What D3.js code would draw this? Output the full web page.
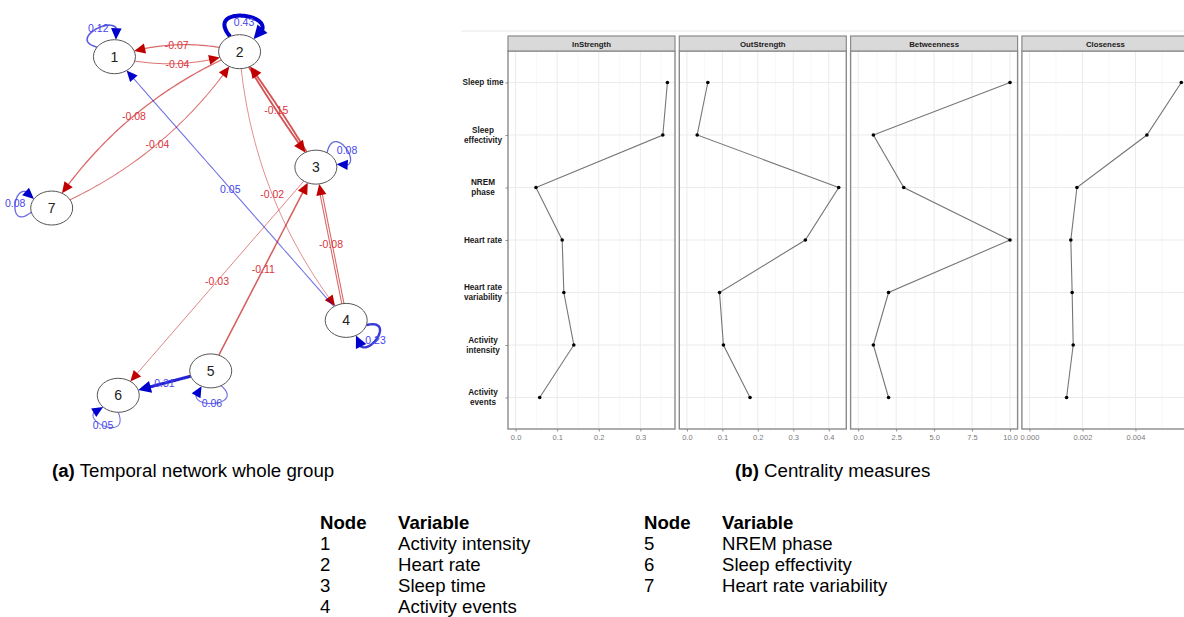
<!DOCTYPE html>
<html><head><meta charset="utf-8">
<script src="https://cdn.jsdelivr.net/npm/d3@7"></script>
<style>
body{margin:0;background:#fff;}
svg{display:block;font-family:"Liberation Sans",Arial,sans-serif;}
</style>
</head><body>
<svg id="chart" width="1184" height="617"></svg>
<script>
// ---------------- Network data ----------------
const nodeIds = [1, 2, 3, 4, 5, 6, 7];
const nodeLayoutX = [0.213, 0.638, 0.897, 1.0, 0.540, 0.226, 0.0];
const nodeLayoutY = [0.0146, 0.0, 0.336, 0.782, 0.929, 1.0, 0.455];
const edgeFrom   = [2, 1, 2, 7, 2, 3, 2, 4, 4, 3, 5, 5];
const edgeTo     = [1, 2, 7, 2, 3, 2, 4, 1, 3, 6, 3, 6];
const edgeWeight = [-0.07, -0.04, -0.08, -0.04, -0.15, -0.15, -0.02, 0.05, -0.08, -0.03, -0.11, 0.31];
const loopNode   = [1, 2, 3, 4, 5, 6, 7];
const loopWeight = [0.12, 0.43, 0.08, 0.23, 0.06, 0.05, 0.08];
const nodeVariables = ["Activity intensity", "Heart rate", "Sleep time", "Activity events",
                       "NREM phase", "Sleep effectivity", "Heart rate variability"];

// ---------------- Centrality data ----------------
const variables = ["Sleep time", "Sleep effectivity", "NREM phase", "Heart rate",
                   "Heart rate variability", "Activity intensity", "Activity events"];
const variableLabelLines = [["Sleep time"], ["Sleep", "effectivity"], ["NREM", "phase"], ["Heart rate"],
                            ["Heart rate", "variability"], ["Activity", "intensity"], ["Activity", "events"]];
const measures = ["InStrength", "OutStrength", "Betweenness", "Closeness"];
const inStrength  = [0.365, 0.354, 0.049, 0.112, 0.116, 0.140, 0.058];
const outStrength = [0.059, 0.029, 0.428, 0.334, 0.092, 0.103, 0.178];
const betweenness = [10, 1, 3, 10, 2, 1, 2];
const closeness   = [0.00573, 0.00443, 0.00179, 0.00156, 0.00161, 0.00165, 0.00140];
const inStrengthTicks  = [0, 0.1, 0.2, 0.3];
const outStrengthTicks = [0, 0.1, 0.2, 0.3, 0.4];
const betweennessTicks = [0, 2.5, 5, 7.5, 10];
const closenessTicks   = [0, 0.002, 0.004];
const inStrengthTickLabels  = ["0.0", "0.1", "0.2", "0.3"];
const outStrengthTickLabels = ["0.0", "0.1", "0.2", "0.3", "0.4"];
const betweennessTickLabels = ["0.0", "2.5", "5.0", "7.5", "10.0"];
const closenessTickLabels   = ["0.000", "0.002", "0.004"];

// ---------------- Drawing ----------------
const svg = d3.select("#chart");

// ===== Network =====
const xNet = d3.scaleLinear().domain([0, 1]).range([51.7, 346.2]);
const yNet = d3.scaleLinear().domain([0, 1]).range([51.7, 395.3]);
const RX = 21, RY = 17;
const nodes = nodeIds.map((id, i) => ({id, x: xNet(nodeLayoutX[i]), y: yNet(nodeLayoutY[i])}));
const nodeById = new Map(nodes.map(n => [n.id, n]));
const widthScale = d3.scaleLinear().domain([0, 0.43]).range([0.7, 4]);
const alphaScale = d3.scaleLinear().domain([0, 0.43]).range([0.5, 1]).clamp(true);
const posCol = "#0000CC", negCol = "#C00000";
const posLabel = "#4646EC", negLabel = "#DA3440";
const edgeFont = 10.5;

const curveStyle = {"2-1": 0.075, "1-2": 0.075, "2-7": 0.075, "7-2": 0.075, "2-4": 0.077, "2-3": 0.012, "3-2": 0.012};
const doubleStyle = new Set(["4-3"]);
// [direction deg, half-spread deg, control distance]
const loopStyle = {1: [-118, 33, 35], 2: [-82, 40, 44], 3: [-30, 22, 35], 4: [35, 22, 35],
                   5: [88, 33, 35], 6: [116, 26, 35], 7: [188, 19, 35]};

const gEdges = svg.append("g");
const gNodes = svg.append("g");
const gLabels = svg.append("g");

function inside(n, p) { const dx = (p[0] - n.x) / RX, dy = (p[1] - n.y) / RY; return dx * dx + dy * dy < 1; }
function boundary(n, deg) {
  const a = deg * Math.PI / 180, c = Math.cos(a), s = Math.sin(a);
  const r = 1 / Math.sqrt((c / RX) ** 2 + (s / RY) ** 2);
  return [n.x + r * c, n.y + r * s];
}
function bisect(f, lo, hi) { for (let k = 0; k < 40; k++) { const m = (lo + hi) / 2; if (f(m)) hi = m; else lo = m; } return (lo + hi) / 2; }
const lineGen = d3.line();

function drawCurve(pt, t0, t1, w, color, alpha, dbl) {
  const tip = pt(t1);
  const L = 10 + 0.9 * w, H = 4.4 + 0.55 * w;
  const tb = bisect(t => Math.hypot(pt(t)[0] - tip[0], pt(t)[1] - tip[1]) < L, t0, t1);
  const tEndLine = tb + (t1 - tb) * 0.3;
  const pts = d3.range(0, 61).map(i => pt(t0 + (tEndLine - t0) * i / 60));
  if (dbl) {
    gEdges.append("path").attr("d", lineGen(pts)).attr("fill", "none")
      .attr("stroke", color).attr("stroke-opacity", alpha).attr("stroke-width", w + 2.0);
    gEdges.append("path").attr("d", lineGen(pts)).attr("fill", "none")
      .attr("stroke", "#fff").attr("stroke-width", 1.1);
  } else {
    gEdges.append("path").attr("d", lineGen(pts)).attr("fill", "none")
      .attr("stroke", color).attr("stroke-opacity", alpha).attr("stroke-width", w);
  }
  const b = pt(tb);
  let dx = tip[0] - b[0], dy = tip[1] - b[1]; const len = Math.hypot(dx, dy); dx /= len; dy /= len;
  const bx = tip[0] - dx * L, by = tip[1] - dy * L;
  gEdges.append("polygon")
    .attr("points", [[tip[0], tip[1]], [bx - dy * H, by + dx * H], [bx + dy * H, by - dx * H]].map(p => p.join(",")).join(" "))
    .attr("fill", color);
}

function edgeLabel(p, wv) {
  gLabels.append("text").attr("x", p[0]).attr("y", p[1]).attr("text-anchor", "middle")
    .attr("dominant-baseline", "central").attr("font-size", edgeFont)
    .attr("fill", wv > 0 ? posLabel : negLabel).text(wv.toFixed(2));
}

const labelled = new Set();
edgeFrom.forEach((f, i) => {
  const t = edgeTo[i], wv = edgeWeight[i];
  const A = nodeById.get(f), B = nodeById.get(t);
  const key = f + "-" + t;
  const cv = curveStyle[key] || 0;
  const dx = B.x - A.x, dy = B.y - A.y, len = Math.hypot(dx, dy);
  const px = -dy / len, py = dx / len;
  const C = [(A.x + B.x) / 2 + px * 2 * cv * len, (A.y + B.y) / 2 + py * 2 * cv * len];
  const pt = s => [(1 - s) * (1 - s) * A.x + 2 * s * (1 - s) * C[0] + s * s * B.x,
                   (1 - s) * (1 - s) * A.y + 2 * s * (1 - s) * C[1] + s * s * B.y];
  const t0 = bisect(s => !inside(A, pt(s)), 0, 0.5);
  const t1 = bisect(s => inside(B, pt(s)), 0.5, 1);
  const col = wv > 0 ? posCol : negCol;
  drawCurve(pt, t0, t1, widthScale(Math.abs(wv)), col, alphaScale(Math.abs(wv)), doubleStyle.has(key));
  const rev = t + "-" + f + ":" + wv;
  if (!labelled.has(rev)) {
    labelled.add(key + ":" + wv);
    edgeLabel(pt(0.5), wv);
  }
});

loopNode.forEach((id, i) => {
  const n = nodeById.get(id), wv = loopWeight[i];
  const [th, s, D] = loopStyle[id];
  const s2 = 48;
  const P0 = boundary(n, th - s), P3 = boundary(n, th + s);
  const a1 = (th - s2) * Math.PI / 180, a2 = (th + s2) * Math.PI / 180;
  const P1 = [P0[0] + D * Math.cos(a1), P0[1] + D * Math.sin(a1)];
  const P2 = [P3[0] + D * Math.cos(a2), P3[1] + D * Math.sin(a2)];
  const pt = u => {
    const v = 1 - u;
    return [v * v * v * P0[0] + 3 * v * v * u * P1[0] + 3 * v * u * u * P2[0] + u * u * u * P3[0],
            v * v * v * P0[1] + 3 * v * v * u * P1[1] + 3 * v * u * u * P2[1] + u * u * u * P3[1]];
  };
  const col = wv > 0 ? posCol : negCol;
  drawCurve(pt, 0, 1, widthScale(Math.abs(wv)), col, alphaScale(Math.abs(wv)), false);
  const m = pt(0.5);
  // label sits just inside the loop apex
  const c0 = [(P0[0] + P3[0]) / 2, (P0[1] + P3[1]) / 2];
  const k = id === 2 ? 0.72 : 1;
  edgeLabel([c0[0] + (m[0] - c0[0]) * k, c0[1] + (m[1] - c0[1]) * k], wv);
});

gNodes.selectAll("ellipse").data(nodes).join("ellipse")
  .attr("cx", d => d.x).attr("cy", d => d.y).attr("rx", RX).attr("ry", RY)
  .attr("fill", "#fff").attr("stroke", "#555").attr("stroke-width", 1);
gNodes.selectAll("text").data(nodes).join("text")
  .attr("x", d => d.x).attr("y", d => d.y).attr("text-anchor", "middle")
  .attr("dominant-baseline", "central").attr("font-size", 14).attr("fill", "#222")
  .text(d => d.id);

// ===== Centrality panels =====
const measureValues = [inStrength, outStrength, betweenness, closeness];
const measureTicks = [inStrengthTicks, outStrengthTicks, betweennessTicks, closenessTicks];
const measureTickLabels = [inStrengthTickLabels, outStrengthTickLabels, betweennessTickLabels, closenessTickLabels];
const panelTop = 51, panelBottom = 429, stripTop = 36, panelW = 167;
const panelX = d3.scaleLinear().domain([0, 1]).range([508, 679.3]);

svg.append("line").attr("x1", 461).attr("x2", 1184).attr("y1", 31).attr("y2", 31)
  .attr("stroke", "#e8e8e8").attr("stroke-width", 1);

const yC = d3.scalePoint().domain(variables).range([panelTop, panelBottom]).padding(0.6);

measures.forEach((m, i) => {
  const left = panelX(i);
  const vals = measureValues[i];
  const lo = Math.min(0, d3.min(vals)), hi = d3.max(vals), pad = (hi - lo) * 0.05;
  const x = d3.scaleLinear().domain([lo - pad, hi + pad]).range([left, left + panelW]);
  const g = svg.append("g");
  const ticks = measureTicks[i];
  const step = ticks[1] - ticks[0];
  const minors = [ticks[0] - step / 2].concat(ticks.map(t => t + step / 2))
    .filter(v => v > x.domain()[0] && v < x.domain()[1]);
  g.append("rect").attr("x", left).attr("y", panelTop).attr("width", panelW).attr("height", panelBottom - panelTop)
    .attr("fill", "#fff");
  g.selectAll(".minor").data(minors).join("line")
    .attr("x1", d => x(d)).attr("x2", d => x(d)).attr("y1", panelTop).attr("y2", panelBottom)
    .attr("stroke", "#f3f3f3").attr("stroke-width", 0.7);
  g.selectAll(".major").data(ticks).join("line")
    .attr("x1", d => x(d)).attr("x2", d => x(d)).attr("y1", panelTop).attr("y2", panelBottom)
    .attr("stroke", "#ebebeb").attr("stroke-width", 1);
  g.selectAll(".hgrid").data(variables).join("line")
    .attr("x1", left).attr("x2", left + panelW).attr("y1", d => yC(d)).attr("y2", d => yC(d))
    .attr("stroke", "#ebebeb").attr("stroke-width", 1);
  const rows = variables.map((v, k) => ({cat: v, val: vals[k]}));
  g.append("path").datum(rows)
    .attr("d", d3.line().x(d => x(d.val)).y(d => yC(d.cat)))
    .attr("fill", "none").attr("stroke", "#767676").attr("stroke-width", 1.1);
  g.selectAll("circle").data(rows).join("circle")
    .attr("cx", d => x(d.val)).attr("cy", d => yC(d.cat)).attr("r", 1.8).attr("fill", "#000");
  g.append("rect").attr("x", left).attr("y", panelTop).attr("width", panelW).attr("height", panelBottom - panelTop)
    .attr("fill", "none").attr("stroke", "#8a8a8a").attr("stroke-width", 1.4);
  // strip
  g.append("rect").attr("x", left).attr("y", stripTop).attr("width", panelW).attr("height", panelTop - stripTop)
    .attr("fill", "#d9d9d9").attr("stroke", "#8a8a8a").attr("stroke-width", 1.2);
  g.append("text").attr("x", left + panelW / 2).attr("y", (stripTop + panelTop) / 2 + 0.5)
    .attr("text-anchor", "middle").attr("dominant-baseline", "central")
    .attr("font-size", 7.8).attr("font-weight", "bold").attr("fill", "#1a1a1a").text(m);
  // x axis
  const ax = g.append("g").attr("transform", `translate(0,${panelBottom})`)
    .call(d3.axisBottom(x).tickValues(ticks).tickFormat((d, k) => measureTickLabels[i][k]).tickSize(2.5).tickPadding(3));
  ax.select(".domain").remove();
  ax.selectAll("line").attr("stroke", "#8a8a8a");
  ax.selectAll("text").attr("font-size", 7.5).attr("fill", "#7a7a7a").attr("font-family", "'Liberation Sans', Arial, sans-serif");
  if (i === 0) {
    const ay = g.append("g").attr("transform", `translate(${left},0)`)
      .call(d3.axisLeft(yC).tickSize(2.5).tickFormat(""));
    ay.select(".domain").remove();
    ay.selectAll("line").attr("stroke", "#8a8a8a");
    variables.forEach((v, k) => {
      const lines = variableLabelLines[k];
      const t = g.append("text").attr("text-anchor", "middle").attr("font-size", 8.2)
        .attr("font-weight", "bold").attr("fill", "#1a1a1a");
      lines.forEach((ln, j) => {
        t.append("tspan").attr("x", 483)
          .attr("y", yC(v) + (lines.length === 1 ? 0 : (j === 0 ? -5 : 5)))
          .attr("dominant-baseline", "central").text(ln);
      });
    });
  }
});

// ===== Captions =====
function caption(x, y, bold, rest) {
  const t = svg.append("text").attr("x", x).attr("y", y).attr("dominant-baseline", "central")
    .attr("font-size", 18.7).attr("fill", "#000");
  t.append("tspan").attr("font-weight", "bold").text(bold);
  t.append("tspan").text(rest);
}
caption(52, 470, "(a)", " Temporal network whole group");
caption(735, 470, "(b)", " Centrality measures");

// ===== Legend table =====
const legendCols = [{nodeX: 320, varX: 398, ids: nodeIds.slice(0, 4)}, {nodeX: 644, varX: 722, ids: nodeIds.slice(4)}];
const legendY = d3.scaleLinear().domain([0, 1]).range([522, 543]);
const legendFont = 18.6;
legendCols.forEach(c => {
  svg.append("text").attr("x", c.nodeX).attr("y", legendY(0)).attr("dominant-baseline", "central")
    .attr("font-size", legendFont).attr("font-weight", "bold").text("Node");
  svg.append("text").attr("x", c.varX).attr("y", legendY(0)).attr("dominant-baseline", "central")
    .attr("font-size", legendFont).attr("font-weight", "bold").text("Variable");
  c.ids.forEach((id, k) => {
    svg.append("text").attr("x", c.nodeX).attr("y", legendY(k + 1)).attr("dominant-baseline", "central")
      .attr("font-size", legendFont).text(id);
    svg.append("text").attr("x", c.varX).attr("y", legendY(k + 1)).attr("dominant-baseline", "central")
      .attr("font-size", legendFont).text(nodeVariables[nodeIds.indexOf(id)]);
  });
});
</script>
</body></html>
